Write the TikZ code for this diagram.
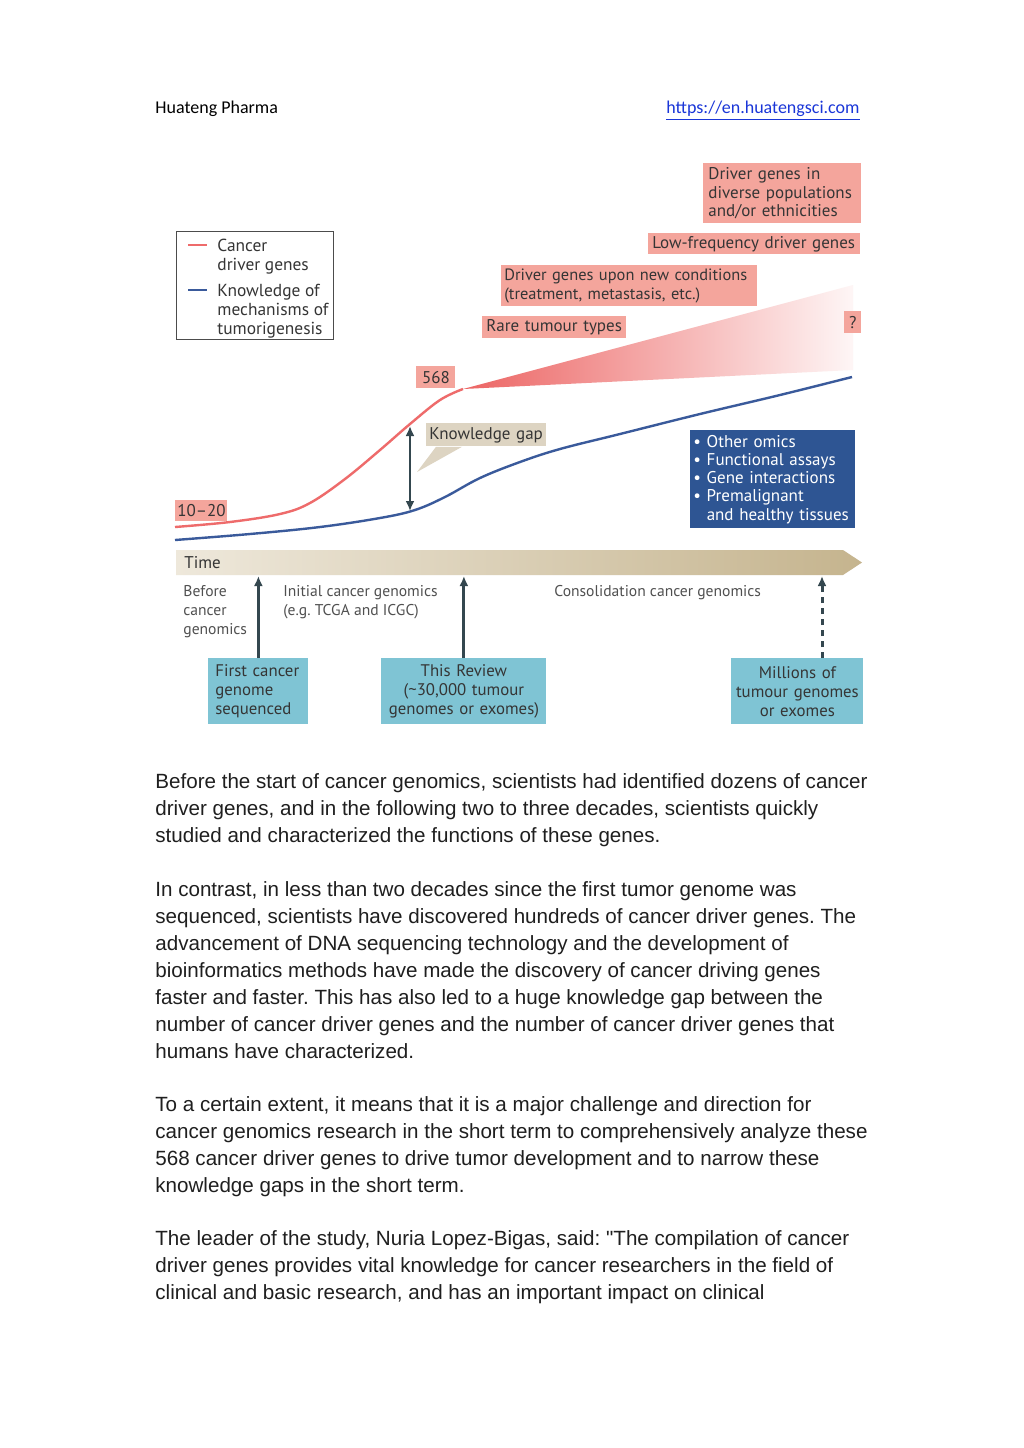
\documentclass[tikz,border=0pt]{standalone}
\usepackage{fontspec}
\usepackage{tikz}
\usetikzlibrary{arrows.meta,positioning,calc}
\setmainfont{Liberation Sans}
\newfontfamily\headsans{Carlito}
\newfontfamily\diagsans[Ligatures=TeX]{PT Sans}
\definecolor{boxpink}{HTML}{F4A59C}
\definecolor{fanred}{HTML}{EC6463}
\definecolor{curvered}{HTML}{EE6B6B}
\definecolor{curveblue}{HTML}{3A5A9B}
\definecolor{omicsblue}{HTML}{2E5593}
\definecolor{tealfill}{HTML}{7FC4D4}
\definecolor{notebeige}{HTML}{DDD4C2}
\definecolor{bandlight}{HTML}{EEE8DB}
\definecolor{banddark}{HTML}{C5B48E}
\definecolor{slate}{HTML}{34474F}
\definecolor{inktext}{HTML}{353535}
\definecolor{phasegray}{HTML}{505050}
\definecolor{linkblue}{HTML}{1A36D8}
\newcommand{\diagfont}{\diagsans\fontsize{8.5}{9.3}\selectfont}
\newcommand{\phasefont}{\diagsans\fontsize{7.8}{9.5}\selectfont}
\newcommand{\bodyfont}{\fontsize{10.3}{13.5}\selectfont}
\frenchspacing

\begin{document}
\begin{tikzpicture}[x=0.5pt,y=-0.5pt,
    pinkbox/.style={fill=boxpink,text=inktext,font=\diagfont,align=left,inner xsep=2.5pt,inner ysep=0pt,anchor=north west},
    tealbox/.style={fill=tealfill,text=inktext,font=\diagsans\fontsize{8.4}{9.5}\selectfont,align=center,inner xsep=2pt,inner ysep=0pt,anchor=north west,minimum height=33pt},
    phasetext/.style={font=\phasefont,text=phasegray,align=left,inner sep=0pt,anchor=north west},
    legtext/.style={font=\diagsans\fontsize{8.7}{9.5}\selectfont,text=inktext,align=left,inner sep=0pt,anchor=north west},
    bodypara/.style={font=\bodyfont,text=black!88,align=left,inner sep=0pt,anchor=north west},
    redcurve/.style={curvered,line width=1.2pt},
    bluecurve/.style={curveblue,line width=1.2pt},
    milestone/.style={slate,line width=1.5pt,-{Latex[length=5pt,width=4.5pt]}},
    futuremark/.style={milestone,dash pattern=on 3pt off 2.5pt}]
  \fill[white] (0,0) rectangle (1024,1448);
  \useasboundingbox (0,0) rectangle (1024,1448);

  % page header
  \node[font=\headsans\fontsize{9}{11}\selectfont,anchor=base west,inner sep=0pt] (firm) at (155,113) {Huateng Pharma};
  \node[font=\headsans\fontsize{9}{11}\selectfont,text=linkblue,anchor=base east,inner sep=0pt] (site) at (860,113) {\underline{https://en.huatengsci.com}};

  % legend
  \node[draw=black!70,line width=0.4pt,minimum width=78.5pt,minimum height=54pt,anchor=north west,inner sep=0pt] (legend) at (176,231) {};
  \draw[redcurve] (188,245) -- (207,245);
  \draw[bluecurve] (188,290) -- (207,290);
  \node[legtext] (legred) at (217,239) {Cancer\\driver genes};
  \node[legtext] (legblue) at (217,284) {Knowledge of\\mechanisms of\\tumorigenesis};

  % discovery fan and curves
  \coordinate (fanapex) at (463,389);
  \shade[left color=fanred,right color=fanred!6] (fanapex) -- (853,285) -- (853,370) -- cycle;
  \draw[redcurve] plot[smooth,tension=0.6] coordinates {(175,527) (230,522) (280,514) (310,503) (345,479) (380,450) (410,424) (440,400) (fanapex)};
  \draw[bluecurve] plot[smooth,tension=0.6] coordinates {(175,540) (250,534) (320,527) (380,518) (415,510) (445,497) (480,478) (520,462) (560,449) (620,434) (700,414) (780,395) (852,377)};

  % future sources of driver genes
  \node[pinkbox,text width=74pt,minimum height=30pt] (diverse) at (703,163) {Driver genes in\\diverse populations\\and/or ethnicities};
  \node[pinkbox,text width=102pt,inner xsep=2pt,minimum height=10.5pt] (lowfreq) at (648,233) {Low-frequency driver genes};
  \node[pinkbox,text width=125pt,inner xsep=1.5pt,minimum height=20.5pt,font=\diagsans\fontsize{8.2}{9.3}\selectfont] (newcond) at (501,265) {Driver genes upon new conditions\\(treatment, metastasis, etc.)};
  \node[pinkbox,text width=68pt,inner xsep=2pt,minimum height=11pt] (rare) at (482,316) {Rare tumour types};
  \node[pinkbox,align=center,inner xsep=0pt,minimum width=8.5pt,minimum height=11pt] (unknown) at (844,311) {?};
  \node[pinkbox,align=center,inner xsep=0pt,minimum width=19.5pt,minimum height=11pt] (count) at (416,366) {568};
  \node[pinkbox,align=center,inner xsep=0pt,minimum width=26pt,minimum height=10.5pt] (early) at (175,500) {10--20};

  % knowledge gap
  \coordinate (gaptop) at (410,426);
  \coordinate (gapbot) at (410,511);
  \draw[slate,line width=1.4pt,{Latex[length=5pt,width=4.5pt]}-{Latex[length=5pt,width=4.5pt]}] (gaptop) -- (gapbot);
  \node[pinkbox,fill=notebeige,text width=57pt,inner xsep=1.5pt,minimum height=11.5pt] (gapnote) at (426,423) {Knowledge gap};
  \coordinate (gaptip) at (417,472);
  \fill[notebeige] ($(gapnote.south west)+(10,0)$) -- (gaptip) -- ($(gapnote.south west)+(36,0)$) -- cycle;

  % functional approaches
  \node[pinkbox,fill=omicsblue,text=white,text width=79.5pt,inner xsep=1.5pt,minimum height=49pt,font=\diagsans\fontsize{8.5}{9.1}\selectfont] (omics) at (690,430)
    {\textbullet\ Other omics\\\textbullet\ Functional assays\\\textbullet\ Gene interactions\\\textbullet\ Premalignant\\\phantom{\textbullet\ }and healthy tissues};

  % time axis
  \shade[left color=bandlight,right color=banddark] (176,550) -- (843,550) -- (862,562.5) -- (843,575) -- (176,575) -- cycle;
  \coordinate (bandlow) at (0,576);
  \node[font=\diagsans\fontsize{8.5}{9.5}\selectfont,text=inktext,anchor=west,inner sep=0pt] (timelabel) at (184,563) {Time};

  \node[phasetext] (before) at (183,585) {Before\\cancer\\genomics};
  \node[phasetext] (initial) at (283,585) {Initial cancer genomics\\(e.g. TCGA and ICGC)};
  \node[phasetext] (consol) at (554,585) {Consolidation cancer genomics};

  % milestones
  \node[tealbox,align=left,inner xsep=3.5pt,text width=43pt] (firstgenome) at (208,658) {First cancer\\genome\\sequenced};
  \node[tealbox,text width=78.5pt] (review) at (381,658) {This Review\\(\textasciitilde30,000 tumour\\genomes or exomes)};
  \node[tealbox,text width=62pt] (millions) at (731,658) {Millions of\\tumour genomes\\or exomes};
  \coordinate (futurefoot) at (822,658);
  \draw[milestone] (firstgenome.north) -- (firstgenome.north |- bandlow);
  \draw[milestone] (review.north) -- (review.north |- bandlow);
  \draw[futuremark] (futurefoot) -- (futurefoot |- bandlow);

  % article text
  \node[bodypara] (para1) at (155,773) {Before the start of cancer genomics, scientists had identified dozens of cancer\\driver genes, and in the following two to three decades, scientists quickly\\studied and characterized the functions of these genes.};
  \node[bodypara] (para2) at (155,881) {In contrast, in less than two decades since the first tumor genome was\\sequenced, scientists have discovered hundreds of cancer driver genes. The\\advancement of DNA sequencing technology and the development of\\bioinformatics methods have made the discovery of cancer driving genes\\faster and faster. This has also led to a huge knowledge gap between the\\number of cancer driver genes and the number of cancer driver genes that\\humans have characterized.};
  \node[bodypara] (para3) at (155,1096) {To a certain extent, it means that it is a major challenge and direction for\\cancer genomics research in the short term to comprehensively analyze these\\568 cancer driver genes to drive tumor development and to narrow these\\knowledge gaps in the short term.};
  \node[bodypara] (para4) at (155,1230) {The leader of the study, Nuria Lopez-Bigas, said: \textquotedbl The compilation of cancer\\driver genes provides vital knowledge for cancer researchers in the field of\\clinical and basic research, and has an important impact on clinical};
\end{tikzpicture}
\end{document}
